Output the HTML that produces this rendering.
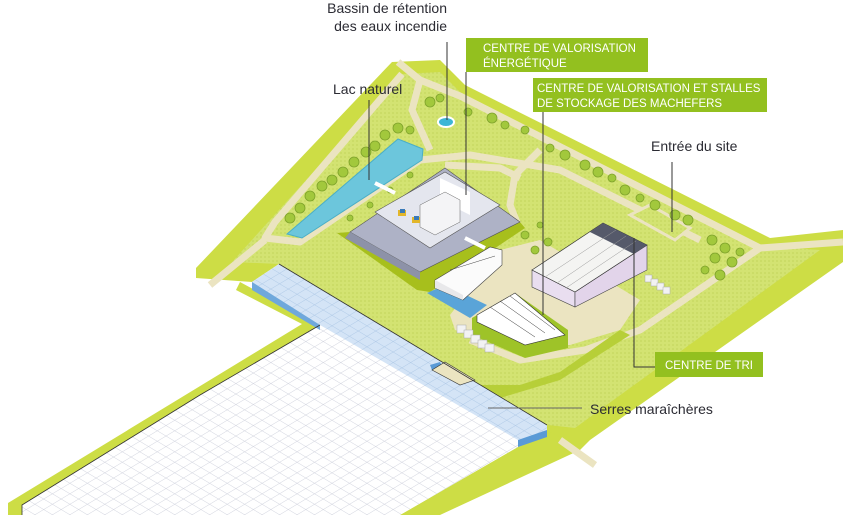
<!DOCTYPE html>
<html><head><meta charset="utf-8"><style>
html,body{margin:0;padding:0;background:#fff;}
svg{display:block;}
.lbl{font-family:"Liberation Sans",sans-serif;font-size:14px;fill:#2b2b33;}
.box{font-family:"Liberation Sans",sans-serif;font-size:11.5px;fill:#fff;}
</style></head><body>
<svg width="843" height="515" viewBox="0 0 843 515" xmlns="http://www.w3.org/2000/svg">
<defs>
<pattern id="dots" width="4" height="4" patternUnits="userSpaceOnUse">
<rect width="4" height="4" fill="#d3e372"/><circle cx="1" cy="1" r="0.6" fill="#b9cc4a"/>
</pattern>
<pattern id="g1" width="9" height="9" patternUnits="userSpaceOnUse" patternTransform="rotate(31)">
<line x1="0" y1="0" x2="9" y2="0" stroke="#c9ccd8" stroke-width="0.8"/></pattern>
<pattern id="g2" width="9" height="9" patternUnits="userSpaceOnUse" patternTransform="rotate(-31)">
<line x1="0" y1="0" x2="9" y2="0" stroke="#c9ccd8" stroke-width="0.8"/></pattern>
<pattern id="b1" width="9" height="9" patternUnits="userSpaceOnUse" patternTransform="rotate(31)">
<line x1="0" y1="0" x2="9" y2="0" stroke="#a9c4e4" stroke-width="0.8"/></pattern>
<pattern id="b2" width="9" height="9" patternUnits="userSpaceOnUse" patternTransform="rotate(-31)">
<line x1="0" y1="0" x2="9" y2="0" stroke="#a9c4e4" stroke-width="0.8"/></pattern>
</defs>

<!-- outer lime -->
<polygon points="392,62 440,60 465,85 770,238 843,230 843,262 590,440 578,452 547,435 279,264 252,282 196,278 196,268" fill="#cddd45"/>
<polygon points="240,282 320,325 22,505 22,515 8,515 8,503 302,324 236,290" fill="#cddd45"/>
<polygon points="547,430 580,450 440,515 400,515" fill="#cddd45"/>
<!-- inner dotted field -->
<polygon points="402,74 440,72 460,92 760,246 820,250 575,428 548,425 279,264 232,262" fill="url(#dots)"/>
<!-- roads -->
<g fill="none" stroke="#ebe4c1" stroke-width="7" stroke-linejoin="round">
<polyline points="398,62 420,80 460,96 760,248 843,242"/>
<polyline points="402,74 275,222 265,238 300,242 420,160 470,155 560,170 650,215 700,240"/>
<polyline points="420,80 412,110 430,150"/>
<polyline points="210,285 265,240"/>
<polyline points="540,150 515,175 510,205 520,230"/>
<polyline points="445,165 500,168 520,178"/>
<polyline points="760,248 640,330 585,350 520,360 470,340"/>
<polyline points="560,440 595,465"/>
</g>
<polygon points="500,250 540,240 640,300 620,330 570,345 500,345 455,330 450,315" fill="#ebe4c1"/>
<polygon points="630,215 650,205 690,228 675,240" fill="url(#dots)" stroke="#ebe4c1" stroke-width="3"/>
<polygon points="440,362 480,385 520,385 560,372 620,330 630,335 560,380 500,398 440,375" fill="#b7cf38"/>

<!-- lake -->
<polygon points="287,234 398,139 423,149 422,160 302,238" fill="#6cc6dc" stroke="#4aaec7" stroke-width="1"/>
<ellipse cx="446" cy="122" rx="8" ry="5" fill="#3cb6d6" stroke="#fff" stroke-width="2"/>

<!-- trees -->
<g fill="#a2c83c" stroke="#7ea22b" stroke-width="0.8">
<circle cx="290" cy="218" r="5"/><circle cx="300" cy="208" r="5"/><circle cx="310" cy="196" r="5"/><circle cx="322" cy="186" r="5"/><circle cx="332" cy="180" r="5"/><circle cx="343" cy="172" r="5"/><circle cx="354" cy="162" r="5"/><circle cx="366" cy="152" r="5"/><circle cx="375" cy="146" r="5"/><circle cx="385" cy="135" r="5"/><circle cx="398" cy="128" r="5"/><circle cx="410" cy="130" r="4"/>
<circle cx="430" cy="102" r="5"/><circle cx="440" cy="98" r="4"/><circle cx="468" cy="112" r="4"/><circle cx="492" cy="118" r="5"/><circle cx="505" cy="125" r="4"/><circle cx="525" cy="130" r="4"/><circle cx="550" cy="148" r="4"/><circle cx="565" cy="155" r="5"/>
<circle cx="585" cy="165" r="5"/><circle cx="598" cy="172" r="5"/><circle cx="612" cy="178" r="4"/><circle cx="625" cy="190" r="5"/><circle cx="640" cy="198" r="4"/><circle cx="655" cy="205" r="5"/><circle cx="675" cy="215" r="5"/><circle cx="688" cy="220" r="5"/>
<circle cx="712" cy="240" r="5"/><circle cx="725" cy="248" r="5"/><circle cx="715" cy="258" r="5"/><circle cx="732" cy="262" r="5"/><circle cx="720" cy="275" r="5"/><circle cx="740" cy="252" r="4"/><circle cx="705" cy="270" r="4"/>
<circle cx="525" cy="235" r="4"/><circle cx="535" cy="250" r="4"/><circle cx="548" cy="242" r="4"/><circle cx="540" cy="225" r="3"/>
<circle cx="350" cy="218" r="3"/><circle cx="370" cy="205" r="3"/><circle cx="390" cy="190" r="3"/><circle cx="410" cy="175" r="3"/>
</g>

<!-- greenhouse -->
<polygon points="279,264 547,425 547,433 518,447 400,515 22,515 22,505 200,395 320,325 252,287 252,282" fill="#fff"/>
<polygon points="279,264 547,425 547,433 518,447 400,515 22,515 22,505 200,395 320,325 252,287 252,282" fill="url(#g1)"/>
<polygon points="279,264 547,425 547,433 518,447 400,515 22,515 22,505 200,395 320,325 252,287 252,282" fill="url(#g2)"/>
<polygon points="252,282 279,264 547,425 547,433 518,440 320,325 252,287" fill="#d4e4f6"/>
<polygon points="252,282 279,264 547,425 547,433 518,440 320,325 252,287" fill="url(#b1)"/>
<polygon points="252,282 279,264 547,425 547,433 518,440 320,325 252,287" fill="url(#b2)"/>
<polygon points="252,282 252,290 320,330 320,325" fill="#6fa8dc"/>
<polygon points="518,440 547,430 547,437 518,447" fill="#5a9ad6"/>
<polygon points="430,365 440,362 445,372 432,370" fill="#5a9ad6"/>
<polygon points="432,370 460,385 475,380 445,362" fill="#ebe4c1" stroke="#333" stroke-width="0.6"/>
<polyline points="279,264 547,425" fill="none" stroke="#333" stroke-width="0.8"/>
<polyline points="320,325 200,395 22,505 22,515" fill="none" stroke="#333" stroke-width="0.8"/>

<!-- CVE building -->
<polygon points="337,233 350,232 420,272 520,222 525,228 430,292 417,290" fill="#a7bf1c"/>
<polygon points="350,232 445,168 520,222 420,272" fill="#aeb2c6" stroke="#555" stroke-width="0.6"/>
<polygon points="350,232 420,272 420,280 345,238" fill="#8d92a8"/>
<polygon points="375,212 445,172 500,205 430,248" fill="#e4e6ee" stroke="#555" stroke-width="0.6"/>
<polygon points="440,178 470,192 470,215 440,200" fill="#fff"/>
<polygon points="420,205 445,192 460,200 460,222 435,235 420,227" fill="#f4f4f6" stroke="#666" stroke-width="0.5"/>
<rect x="398" y="210" width="8" height="6" fill="#e2b62a"/><rect x="412" y="217" width="8" height="6" fill="#e2b62a"/>
<rect x="400" y="209" width="5" height="4" fill="#3a7ab8"/><rect x="414" y="216" width="5" height="4" fill="#3a7ab8"/>
<line x1="375" y1="183" x2="395" y2="193" stroke="#fff" stroke-width="4"/>
<line x1="465" y1="238" x2="485" y2="248" stroke="#fff" stroke-width="4"/>

<!-- white building + pool -->
<polygon points="427,293 445,285 487,305 470,318" fill="#5aa4d8"/>
<polygon points="435,280 490,247 502,250 502,265 463,300 435,288" fill="#fbfbfb" stroke="#444" stroke-width="0.6"/>
<polygon points="435,280 463,295 463,300 435,288" fill="#e8e8ea"/>
<line x1="450" y1="270" x2="495" y2="256" stroke="#444" stroke-width="0.5"/>

<!-- machefers -->
<polygon points="472,318 515,293 568,330 568,348 525,358 472,335" fill="#9ec328"/>
<polygon points="477,315 515,293 565,335 525,345 477,322" fill="#fff" stroke="#333" stroke-width="0.6"/>
<g stroke="#333" stroke-width="0.5" fill="none"><line x1="490" y1="307" x2="535" y2="337"/><line x1="500" y1="301" x2="545" y2="333"/><line x1="510" y1="296" x2="555" y2="330"/></g>
<g fill="#f2f2f2" stroke="#aaa" stroke-width="0.5">
<rect x="457" y="325" width="9" height="8"/><rect x="464" y="330" width="9" height="8"/><rect x="471" y="335" width="9" height="8"/><rect x="478" y="340" width="9" height="8"/><rect x="485" y="344" width="9" height="8"/>
<rect x="645" y="275" width="7" height="7"/><rect x="651" y="279" width="7" height="7"/><rect x="657" y="283" width="7" height="7"/><rect x="663" y="287" width="7" height="7"/>
</g>

<!-- Centre de tri -->
<polygon points="532,270 575,292 575,307 532,287" fill="#e9def0" stroke="#444" stroke-width="0.6"/>
<polygon points="575,292 647,245 647,270 575,307" fill="#e2d4ea" stroke="#444" stroke-width="0.6"/>
<polygon points="532,270 603,223 647,245 575,292" fill="#f4f4f2" stroke="#333" stroke-width="0.7"/>
<polygon points="603,223 647,245 634,254 590,232" fill="#55596a"/>
<g stroke="#999" stroke-width="0.5" fill="none"><line x1="545" y1="277" x2="616" y2="230"/><line x1="557" y1="283" x2="626" y2="236"/><line x1="566" y1="288" x2="636" y2="241"/></g>

<!-- leaders -->
<g stroke="#333" stroke-width="1" fill="none">
<line x1="447" y1="42" x2="447" y2="120"/>
<line x1="369" y1="100" x2="369" y2="180"/>
<line x1="466" y1="72" x2="466" y2="195"/>
<line x1="543" y1="112" x2="543" y2="315"/>
<line x1="672" y1="162" x2="672" y2="232"/>
<polyline points="634,238 634,367 655,367"/>
<line x1="488" y1="408" x2="582" y2="408" stroke="#666"/>
</g>

<!-- labels -->
<text class="lbl" x="447" y="13" text-anchor="end">Bassin de rétention</text>
<text class="lbl" x="447" y="31" text-anchor="end">des eaux incendie</text>
<text class="lbl" x="333" y="94">Lac naturel</text>
<text class="lbl" x="651" y="151">Entrée du site</text>
<text class="lbl" x="590" y="414">Serres maraîchères</text>

<rect x="466" y="38" width="182" height="34" fill="#93c01f"/>
<text class="box" x="483" y="52">CENTRE DE VALORISATION</text>
<text class="box" x="483" y="67">ÉNERGÉTIQUE</text>
<rect x="533" y="78" width="234" height="34" fill="#93c01f"/>
<text class="box" x="537" y="92">CENTRE DE VALORISATION ET STALLES</text>
<text class="box" x="537" y="107">DE STOCKAGE DES MACHEFERS</text>
<rect x="655" y="352" width="108" height="25" fill="#93c01f"/>
<text class="box" x="665" y="369">CENTRE DE TRI</text>
</svg>
</body></html>
